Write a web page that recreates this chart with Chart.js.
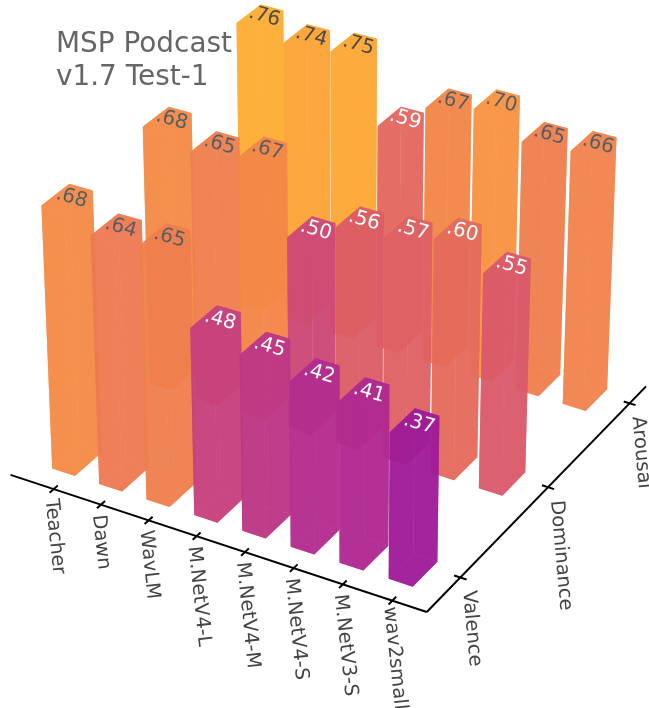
<!DOCTYPE html>
<html>
<head>
<meta charset="utf-8">
<style>
  html, body { margin: 0; padding: 0; background: #fff; }
  canvas { display: block; }
</style>
<script src="https://cdn.jsdelivr.net/npm/chart.js@4"></script>
</head>
<body>
<canvas id="grafico" width="649" height="708"></canvas>
<script>
const modelos = ["Teacher", "Dawn", "WavLM", "M.NetV4-L", "M.NetV4-M", "M.NetV4-S", "M.NetV3-S", "wav2small"]
const dimensiones = ["Valence", "Dominance", "Arousal"]
const valence = [0.68, 0.64, 0.65, 0.48, 0.45, 0.42, 0.41, 0.37]
const dominance = [0.68, 0.65, 0.67, 0.50, 0.56, 0.57, 0.60, 0.55]
const arousal = [0.76, 0.74, 0.75, 0.59, 0.67, 0.70, 0.65, 0.66]
const titulo = ["MSP Podcast", "v1.7 Test-1"]

const series = [valence, dominance, arousal]

// camara: vanishing points of the 3 axes
const VX = [-12300, -3580], VY = [2900, -1940], VZ = [341, 7500]
const O = [75, 476]
const a = -0.003795, b = 0.03639, c = -0.054

function proyectar(X, Y, Z) {
  // small corrections so the back row and the bar heights line up
  const Xc = 7 + (X - 7) * (1 + 0.007 * Y)
  const Zc = Z * (1 + 0.004 * (X - 3.5))
  const w = a * Xc + b * Y + c * Zc + 1
  return {
    x: (a * Xc * VX[0] + b * Y * VY[0] + c * Zc * VZ[0] + O[0]) / w,
    y: (a * Xc * VX[1] + b * Y * VY[1] + c * Zc * VZ[1] + O[1]) / w,
  }
}

// plasma colormap
const plasma = [[13,8,135],[65,4,157],[106,0,168],[143,13,164],[177,42,144],[204,71,120],[225,100,98],[242,132,75],[252,166,54],[252,206,37],[240,249,33]]
function colorDe(v, alfa) {
  const t = Math.min(0.999, Math.max(0, v * 1.2 - 0.095)) * 10
  const i = Math.floor(t), f = t - i
  const rgb = plasma[i].map((n, k) => Math.round(n + (plasma[i + 1][k] - n) * f))
  return `rgba(${rgb[0]},${rgb[1]},${rgb[2]},${alfa})`
}

const anchoBarra = 0.486, fondoBarra = 0.268
const datasets = []

function cara(puntos, color) {
  datasets.push({
    data: puntos.concat([puntos[0]]),
    showLine: true,
    fill: "shape",
    backgroundColor: color,
    borderWidth: 0,
    pointRadius: 0,
    tension: 0,
    clip: false,
  })
}

function linea(p, q) {
  datasets.push({
    data: [p, q],
    showLine: true,
    fill: false,
    borderColor: "#000",
    borderWidth: 2,
    pointRadius: 0,
    clip: false,
  })
}

// back row first, then left to right
for (let j = series.length - 1; j >= 0; j--) {
  series[j].forEach((v, i) => {
    const x0 = i - anchoBarra, x1 = i, y0 = j, y1 = j + fondoBarra
    const color = colorDe(v, 0.8)
    const P = (x, y, z) => proyectar(x, y, z)
    cara([P(x0,y0,0), P(x1,y0,0), P(x1,y1,0), P(x0,y1,0)], color)
    cara([P(x0,y1,0), P(x1,y1,0), P(x1,y1,v), P(x0,y1,v)], color)
    cara([P(x0,y0,0), P(x0,y1,0), P(x0,y1,v), P(x0,y0,v)], color)
    cara([P(x0,y0,0), P(x1,y0,0), P(x1,y0,v), P(x0,y0,v)], color)
    cara([P(x1,y0,0), P(x1,y1,0), P(x1,y1,v), P(x1,y0,v)], color)
    cara([P(x0,y0,v), P(x1,y0,v), P(x1,y1,v), P(x0,y1,v)], color)
  })
}

// axes
const xMin = -1.02, xMax = 7.59, yMin = -0.164, yMax = 2.41
linea(proyectar(xMin, yMin, 0), proyectar(xMax, yMin, 0))
linea(proyectar(xMax, yMin, 0), proyectar(xMax, yMax, 0))
modelos.forEach((m, i) => linea(proyectar(i - 0.1, yMin - 0.04, 0), proyectar(i - 0.1, yMin + 0.04, 0)))
dimensiones.forEach((d, j) => linea(proyectar(xMax - 0.125, j + 0.2, 0), proyectar(xMax + 0.125, j + 0.2, 0)))

// chart.js paints the first dataset on top, so the list goes backwards
datasets.reverse()

const textos = {
  id: "textos",
  afterDatasetsDraw(chart) {
    const ctx = chart.ctx
    const sx = chart.scales.x, sy = chart.scales.y
    const px = (p) => [sx.getPixelForValue(p.x), sy.getPixelForValue(p.y)]

    function texto(s, x, y, rot, color, size, align) {
      ctx.save()
      ctx.translate(x, y)
      ctx.rotate(rot * Math.PI / 180)
      ctx.font = size + 'px "DejaVu Sans"'
      ctx.fillStyle = color
      ctx.textAlign = align
      ctx.textBaseline = "middle"
      ctx.fillText(s, 0, 0)
      ctx.restore()
    }

    series.forEach((fila, j) => {
      fila.forEach((v, i) => {
        const [x, y] = px(proyectar(i - anchoBarra / 2, j + fondoBarra / 2, v))
        const etiqueta = v.toFixed(2).replace("0.", ".")
        texto(etiqueta, x + 4.5, y, 16, v <= 0.6 ? "#fff" : (v >= 0.74 ? "#4a4a4a" : "#555e66"), 20, "center")
      })
    })

    modelos.forEach((m, i) => {
      const [x, y] = px(proyectar(i - 0.1, yMin, 0))
      texto(m, x - 3, y + (m == "wav2small" ? 6 : 10), 84, "#444", 19.5, "left")
    })
    dimensiones.forEach((d, j) => {
      const [x, y] = px(proyectar(xMax, j + 0.2, 0))
      texto(d, x + 8, y + 13, 85, "#444", 19.5, "left")
    })

    titulo.forEach((t, k) => texto(t, 56, 45 + k * 32.5, 0, "#666", 27.9, "left"))
  },
}

new Chart(document.getElementById("grafico"), {
  type: "scatter",
  data: { datasets: datasets },
  plugins: [textos],
  options: {
    responsive: false,
    animation: false,
    layout: { padding: 0 },
    plugins: { legend: { display: false }, tooltip: { enabled: false } },
    scales: {
      x: { type: "linear", min: 0, max: 649, display: false },
      y: { type: "linear", min: 0, max: 708, reverse: true, display: false },
    },
  },
})
</script>
</body>
</html>
